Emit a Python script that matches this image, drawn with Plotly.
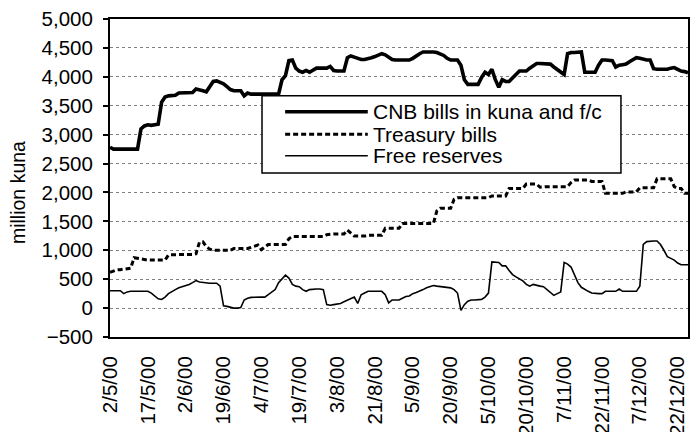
import plotly.graph_objects as go

tick_labels = ["2/5/00", "17/5/00", "2/6/00", "19/6/00", "4/7/00", "19/7/00", "3/8/00",
               "21/8/00", "5/9/00", "20/9/00", "5/10/00", "20/10/00", "7/11/00",
               "22/11/00", "7/12/00", "22/12/00"]
tick_step = 11

cnb_bills = [2780, 2750, 2750, 2750, 2750, 2750, 2750, 2750, 2750, 3100,
             3150, 3170, 3160, 3170, 3180, 3560, 3650, 3670, 3670, 3680,
             3720, 3720, 3720, 3720, 3730, 3790, 3780, 3760, 3740, 3820,
             3920, 3930, 3900, 3880, 3830, 3780, 3760, 3760, 3760, 3670,
             3720, 3700, 3700, 3700, 3700, 3700, 3700, 3700, 3700, 3700,
             3950, 4020, 4280, 4290, 4150, 4100, 4080, 4110, 4080, 4120,
             4150, 4150, 4150, 4150, 4180, 4110, 4100, 4100, 4100, 4330,
             4360, 4340, 4320, 4300, 4300, 4310, 4330, 4350, 4380, 4400,
             4380, 4330, 4300, 4290, 4290, 4290, 4290, 4290, 4320, 4370,
             4400, 4430, 4430, 4440, 4430, 4420, 4400, 4370, 4320, 4290,
             4290, 4290, 4200, 3950, 3870, 3870, 3870, 3870, 3990, 4080,
             4040, 4130, 3950, 3820, 3950, 3920, 3920, 3980, 4050, 4100,
             4100, 4100, 4150, 4200, 4230, 4230, 4230, 4220, 4220, 4170,
             4120, 4070, 4040, 4400, 4420, 4420, 4430, 4430, 4080, 4080,
             4080, 4080, 4200, 4290, 4290, 4290, 4280, 4170, 4200, 4210,
             4220, 4260, 4300, 4330, 4320, 4300, 4290, 4290, 4140, 4130,
             4130, 4130, 4130, 4150, 4160, 4130, 4100, 4090, 4070]

treasury_bills = [620, 640, 660, 665, 670, 675, 690, 870, 860, 840,
                  830, 830, 830, 830, 830, 830, 830, 920, 925, 925,
                  925, 925, 925, 925, 925, 940, 1140, 1145, 1060, 1020,
                  1000, 1000, 1000, 1000, 1000, 1000, 1030, 1030, 1030, 1030,
                  1030, 1050, 1070, 1090, 1010, 1060, 1100, 1100, 1100, 1100,
                  1100, 1100, 1200, 1240, 1240, 1240, 1240, 1240, 1240, 1240,
                  1240, 1240, 1240, 1270, 1280, 1280, 1280, 1280, 1280, 1350,
                  1290, 1245, 1245, 1245, 1245, 1260, 1260, 1260, 1260, 1260,
                  1380, 1380, 1380, 1380, 1380, 1465, 1465, 1465, 1465, 1465,
                  1465, 1465, 1465, 1465, 1465, 1680, 1725, 1725, 1725, 1725,
                  1880, 1910, 1910, 1910, 1910, 1910, 1910, 1910, 1910, 1910,
                  1910, 1940, 1940, 1940, 1940, 1940, 2070, 2070, 2070, 2070,
                  2070, 2145, 2145, 2145, 2145, 2090, 2100, 2100, 2100, 2100,
                  2100, 2100, 2100, 2100, 2170, 2215, 2215, 2215, 2215, 2215,
                  2190, 2190, 2190, 2190, 1985, 1985, 1985, 1985, 1985, 1985,
                  2010, 2010, 2010, 2010, 2080, 2080, 2080, 2080, 2080, 2235,
                  2235, 2235, 2235, 2235, 2100, 2070, 2070, 1985, 1985]

free_reserves = [300, 300, 300, 300, 250, 280, 290, 290, 290, 290,
                 290, 290, 260, 210, 160, 150, 190, 250, 290, 320,
                 350, 370, 380, 410, 440, 475, 450, 440, 430, 430,
                 430, 430, 380, 40, 30, 10, 0, 0, 10, 140,
                 170, 185, 190, 190, 190, 190, 230, 280, 320, 440,
                 500, 570, 520, 410, 380, 370, 320, 290, 320, 330,
                 330, 330, 320, 60, 50, 60, 75, 80, 110, 140,
                 160, 190, 80, 230, 260, 290, 290, 290, 290, 290,
                 230, 90, 140, 140, 140, 170, 200, 210, 250, 270,
                 290, 320, 350, 370, 390, 380, 370, 360, 350, 350,
                 320, 260, -40, 60, 120, 140, 140, 140, 150, 190,
                 260, 800, 800, 790, 730, 730, 650, 580, 540, 500,
                 470, 410, 380, 410, 390, 380, 370, 320, 270, 220,
                 250, 280, 790, 760, 710, 560, 440, 360, 320, 290,
                 260, 250, 250, 250, 290, 290, 290, 290, 330, 290,
                 290, 290, 290, 290, 380, 1100, 1150, 1160, 1160, 1160,
                 1100, 1000, 890, 860, 830, 780, 750, 750, 750]

series_names = ["CNB bills in kuna and f/c", "Treasury bills", "Free reserves"]

FONT = "Liberation Sans, Arial, sans-serif"

fig = go.Figure()
fig.add_trace(go.Scatter(x=list(range(len(cnb_bills))), y=cnb_bills, mode="lines",
                         name=series_names[0], line=dict(color="black", width=3.6)))
fig.add_trace(go.Scatter(x=list(range(len(treasury_bills))), y=treasury_bills, mode="lines",
                         name=series_names[1],
                         line=dict(color="black", width=3, dash="5px,3px")))
fig.add_trace(go.Scatter(x=list(range(len(free_reserves))), y=free_reserves, mode="lines",
                         name=series_names[2], line=dict(color="black", width=1.6)))

n = len(cnb_bills)
tickvals = [i * tick_step for i in range(len(tick_labels))]

fig.update_layout(
    width=695, height=432,
    margin=dict(l=110, r=7, t=19, b=95),
    paper_bgcolor="white", plot_bgcolor="white",
    showlegend=False,
    font=dict(family=FONT, color="black", size=20),
    xaxis=dict(range=[0, n - 1], tickmode="array", tickvals=tickvals, ticktext=tick_labels,
               tickangle=-90, showgrid=False, zeroline=False, automargin=False,
               showline=True, linecolor="black", linewidth=2, mirror=True,
               ticks="", ticklabelstandoff=9, tickfont=dict(size=20.5, family=FONT)),
    yaxis=dict(range=[-500, 5000], dtick=500, tickformat=",", showgrid=True,
               gridcolor="#808080", griddash="dot", gridwidth=1, zeroline=False,
               automargin=False,
               showline=True, linecolor="black", linewidth=2, mirror=True,
               ticks="outside", ticklen=5, tickwidth=2, tickcolor="black",
               ticklabelstandoff=6, tickfont=dict(size=20.5, family=FONT)),
)

# y-axis title
fig.add_annotation(text="million kuna", xref="paper", yref="paper", x=-0.159, y=0.453,
                   textangle=-90, showarrow=False, font=dict(size=19.5, family=FONT),
                   xanchor="center", yanchor="middle")

# custom legend box
px0, px1 = 0.263, 0.884
py0, py1 = 0.516, 0.759
fig.add_shape(type="rect", xref="paper", yref="paper", x0=px0, x1=px1, y0=py0, y1=py1,
              line=dict(color="black", width=1.5), fillcolor="white", layer="above")
rows = [0.7085, 0.6374, 0.570]
styles = [dict(color="black", width=3.6), dict(color="black", width=3, dash="5px,3px"),
          dict(color="black", width=1.6)]
for name, ry, st in zip(series_names, rows, styles):
    fig.add_shape(type="line", xref="paper", yref="paper", x0=0.303, x1=0.446, y0=ry, y1=ry,
                  line=st, layer="above")
    fig.add_annotation(text=name, xref="paper", yref="paper", x=0.451, y=ry,
                       xanchor="left", yanchor="middle", showarrow=False,
                       font=dict(size=21, family=FONT))

fig.write_html("out.html", config={"displayModeBar": False},
               post_script="document.body.style.margin='0px';document.body.style.overflow='hidden';")
